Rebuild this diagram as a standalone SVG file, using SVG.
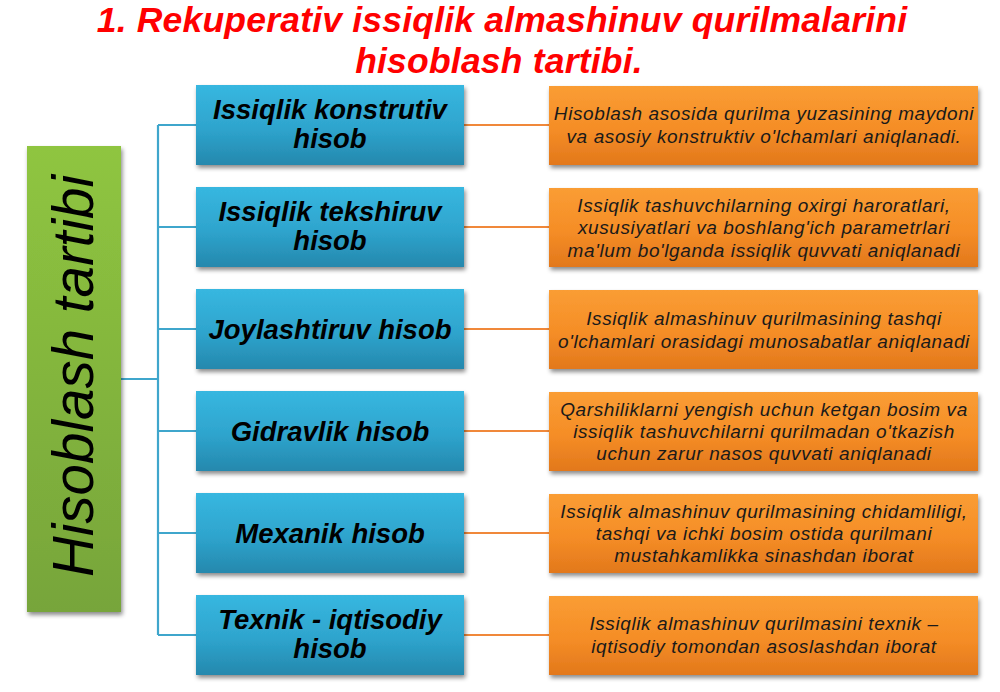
<svg xmlns="http://www.w3.org/2000/svg" width="1000" height="692" viewBox="0 0 1000 692">
  <defs>
    <linearGradient id="gBlue" x1="0" y1="0" x2="0" y2="1">
      <stop offset="0" stop-color="#37b7e0"/>
      <stop offset="0.55" stop-color="#2ea4cd"/>
      <stop offset="1" stop-color="#2588ad"/>
    </linearGradient>
    <linearGradient id="gOrange" x1="0" y1="0" x2="0" y2="1">
      <stop offset="0" stop-color="#fa9d34"/>
      <stop offset="0.55" stop-color="#f58d26"/>
      <stop offset="1" stop-color="#e2781c"/>
    </linearGradient>
    <linearGradient id="gGreen" x1="0" y1="0" x2="0" y2="1">
      <stop offset="0" stop-color="#8fc540"/>
      <stop offset="1" stop-color="#77a53a"/>
    </linearGradient>
    <filter id="sh" x="-10%" y="-10%" width="120%" height="130%">
      <feDropShadow dx="1.5" dy="3" stdDeviation="2" flood-color="#000" flood-opacity="0.45"/>
    </filter>
    <style>
      .title { font-family: "Liberation Sans", Arial, sans-serif; font-weight: bold; font-style: italic; font-size: 35.5px; letter-spacing: 0.2px; fill: #ff0000; text-anchor: middle; }
      .blue { fill: url(#gBlue); filter: url(#sh); }
      .orange { fill: url(#gOrange); filter: url(#sh); }
      .green { fill: url(#gGreen); filter: url(#sh); }
      .bt { font-family: "Liberation Sans", Arial, sans-serif; font-weight: bold; font-style: italic; font-size: 27.5px; fill: #000; text-anchor: middle; }
      .ot { font-family: "Liberation Sans", Arial, sans-serif; font-style: italic; font-size: 19px; letter-spacing: 0.6px; fill: #1a1a1a; text-anchor: middle; }
      .gt { font-family: "Liberation Sans", Arial, sans-serif; font-style: italic; font-size: 56.5px; fill: #000; text-anchor: middle; }
      .cb { stroke: #3fa6cc; stroke-width: 2.2; fill: none; }
      .co { stroke: #f0883a; stroke-width: 2.2; fill: none; }
    </style>
  </defs>
  <rect width="1000" height="692" fill="#ffffff"/>

  <g id="title">
    <text class="title" x="502" y="32">1. Rekuperativ issiqlik almashinuv qurilmalarini</text>
    <text class="title" x="499" y="73">hisoblash tartibi.</text>
  </g>

  <g id="connectors">
    <path class="cb" d="M121 379 H158 M158 125 V635 M158 125 H196 M158 227 H196 M158 329 H196 M158 431 H196 M158 533 H196 M158 635 H196"/>
    <path class="co" d="M464 125 H549 M464 227 H549 M464 329 H549 M464 431 H549 M464 533 H549 M464 635 H549"/>
  </g>

  <g id="root">
    <rect class="green" x="27" y="146" width="94" height="466"/>
    <text class="gt" transform="translate(93 376) rotate(-90)">Hisoblash tartibi</text>
  </g>

  <g id="b1">
    <rect class="blue" x="196" y="85" width="268" height="80"/>
    <text class="bt" x="330" y="119">Issiqlik konstrutiv</text>
    <text class="bt" x="330" y="148">hisob</text>
  </g>
  <g id="b2">
    <rect class="blue" x="196" y="187" width="268" height="80"/>
    <text class="bt" x="330" y="221">Issiqlik tekshiruv</text>
    <text class="bt" x="330" y="250">hisob</text>
  </g>
  <g id="b3">
    <rect class="blue" x="196" y="289" width="268" height="80"/>
    <text class="bt" x="330" y="339">Joylashtiruv hisob</text>
  </g>
  <g id="b4">
    <rect class="blue" x="196" y="391" width="268" height="80"/>
    <text class="bt" x="330" y="441">Gidravlik hisob</text>
  </g>
  <g id="b5">
    <rect class="blue" x="196" y="493" width="268" height="80"/>
    <text class="bt" x="330" y="543">Mexanik hisob</text>
  </g>
  <g id="b6">
    <rect class="blue" x="196" y="595" width="268" height="80"/>
    <text class="bt" x="330" y="629">Texnik - iqtisodiy</text>
    <text class="bt" x="330" y="658">hisob</text>
  </g>

  <g id="o1">
    <rect class="orange" x="549" y="86" width="429" height="79"/>
    <text class="ot" x="764" y="120">Hisoblash asosida qurilma yuzasining maydoni</text>
    <text class="ot" x="764" y="143">va asosiy konstruktiv o'lchamlari aniqlanadi.</text>
  </g>
  <g id="o2">
    <rect class="orange" x="549" y="188" width="429" height="79"/>
    <text class="ot" x="764" y="212">Issiqlik tashuvchilarning oxirgi haroratlari,</text>
    <text class="ot" x="764" y="234">xususiyatlari va boshlang'ich parametrlari</text>
    <text class="ot" x="764" y="257">ma'lum bo'lganda issiqlik quvvati aniqlanadi</text>
  </g>
  <g id="o3">
    <rect class="orange" x="549" y="290" width="429" height="79"/>
    <text class="ot" x="764" y="325">Issiqlik almashinuv qurilmasining tashqi</text>
    <text class="ot" x="764" y="348">o'lchamlari orasidagi munosabatlar aniqlanadi</text>
  </g>
  <g id="o4">
    <rect class="orange" x="549" y="392" width="429" height="79"/>
    <text class="ot" x="764" y="416">Qarshiliklarni yengish uchun ketgan bosim va</text>
    <text class="ot" x="764" y="438">issiqlik tashuvchilarni qurilmadan o'tkazish</text>
    <text class="ot" x="764" y="460">uchun zarur nasos quvvati aniqlanadi</text>
  </g>
  <g id="o5">
    <rect class="orange" x="549" y="494" width="429" height="79"/>
    <text class="ot" x="764" y="518">Issiqlik almashinuv qurilmasining chidamliligi,</text>
    <text class="ot" x="764" y="540">tashqi va ichki bosim ostida qurilmani</text>
    <text class="ot" x="764" y="562">mustahkamlikka sinashdan iborat</text>
  </g>
  <g id="o6">
    <rect class="orange" x="549" y="596" width="429" height="79"/>
    <text class="ot" x="764" y="630">Issiqlik almashinuv qurilmasini texnik –</text>
    <text class="ot" x="764" y="653">iqtisodiy tomondan asoslashdan iborat</text>
  </g>
</svg>
